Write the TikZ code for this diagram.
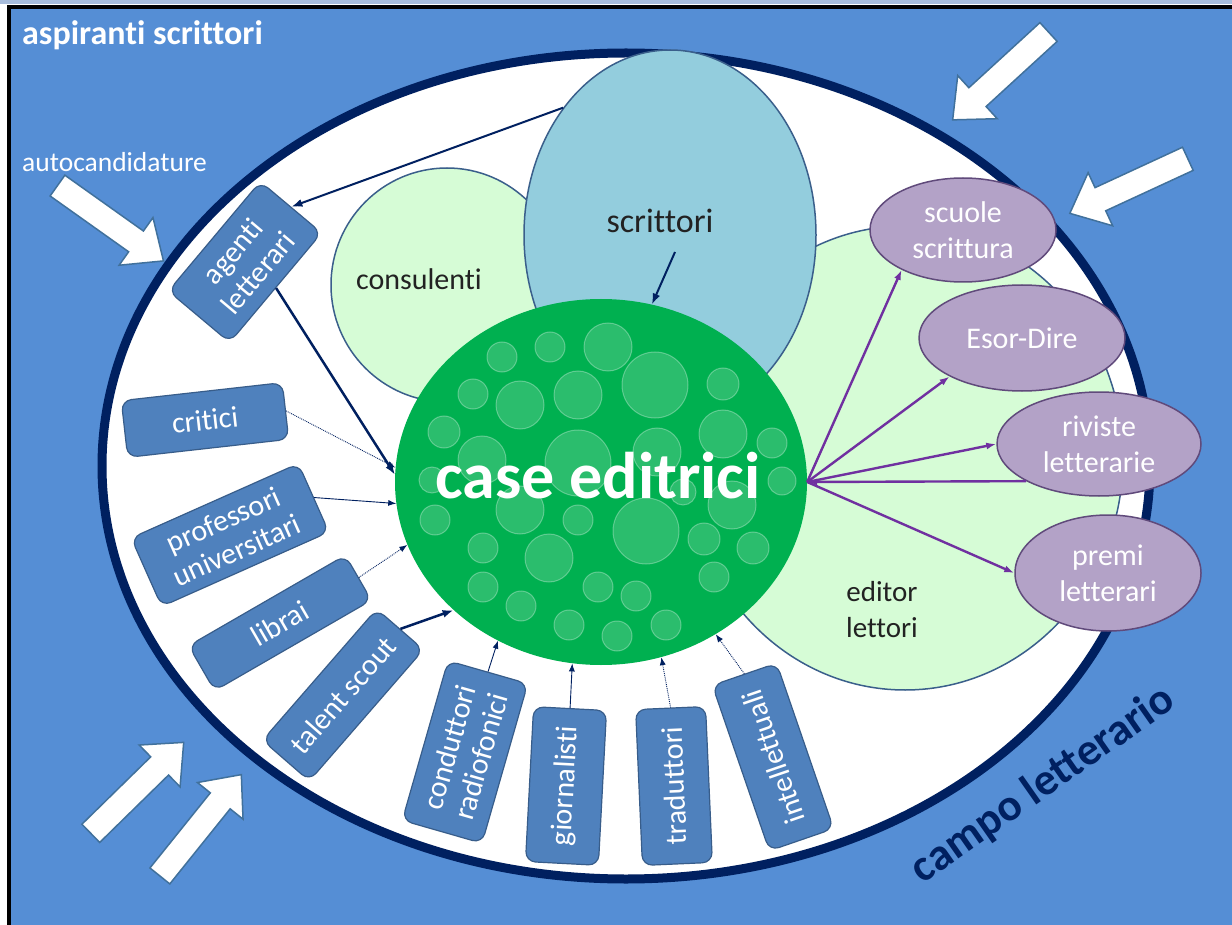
\documentclass[tikz,border=0pt]{standalone}
\usepackage{fontspec}
\setmainfont{Carlito}[Ligatures=NoCommon]
\usetikzlibrary{shapes.geometric,shapes.arrows,arrows.meta}

\definecolor{fieldblue}{HTML}{558ED5}
\definecolor{navy}{HTML}{002060}
\definecolor{mint}{HTML}{D6FCD6}
\definecolor{ringline}{HTML}{3A5F8B}
\definecolor{skyblue}{HTML}{93CDDD}
\definecolor{pubgreen}{HTML}{00B050}
\definecolor{lilac}{HTML}{B3A2C7}
\definecolor{lilacline}{HTML}{604A7B}
\definecolor{boxblue}{HTML}{4F81BD}
\definecolor{boxline}{HTML}{385D8A}
\definecolor{violetline}{HTML}{7030A0}
\definecolor{arrowline}{HTML}{41719C}
\definecolor{topstrip}{HTML}{A7BCDB}
\definecolor{inktext}{HTML}{222222}

\newcommand{\setsz}[2]{\fontsize{#1}{#2}\selectfont}

\tikzset{
  fieldring/.style={ellipse, draw=navy, line width=9pt, fill=white, inner sep=0pt},
  mintdisc/.style={ellipse, fill=mint, draw=ringline, line width=1.5pt, inner sep=0pt},
  lilacpill/.style={ellipse, fill=lilac, draw=lilacline, line width=1.5pt, inner sep=0pt,
    text=white, align=center, font=\setsz{30}{36}},
  rolebox/.style={rectangle, rounded corners=10pt, fill=boxblue, draw=boxline, line width=1.2pt,
    inner sep=0pt, text=white, align=center, font=\setsz{30}{33}},
  blockarrow/.style={single arrow, draw=arrowline, line width=1.5pt, fill=white,
    inner xsep=0pt, inner ysep=12pt, single arrow head extend=16.5pt,
    single arrow tip angle=82, minimum height=130pt},
  bubble/.style={fill=white, fill opacity=0.17, draw=white, draw opacity=0.3, line width=1pt},
  darktext/.style={text=inktext, inner sep=0pt},
  navyarrow/.style={draw=navy, line width=2pt, -{Latex[length=11pt,width=8pt]}},
  thinarrow/.style={draw=navy, line width=0.9pt, -{Latex[length=8pt,width=6pt]}},
  dotarrow/.style={draw=navy, line width=0.9pt, densely dotted, -{Latex[length=8pt,width=6pt]}},
  violetarrow/.style={draw=violetline, line width=2.4pt, -{Latex[length=10pt,width=7pt]}},
}

\begin{document}
\begin{tikzpicture}[x=1pt,y=-1pt]
\useasboundingbox (0,0) rectangle (1232,925);

% page and blue backdrop with its frame
\fill[white] (0,0) rectangle (1232,925);
\fill[topstrip] (0,0) rectangle (1232,4);
\fill[fieldblue] (9,7) rectangle (1232,925);
\draw[black, line width=3.5pt] (9,925) -- (9,7) -- (1232,7);

% the literary field
\node[fieldring, minimum width=1048pt, minimum height=826pt] (fld) at (626,466) {};

% inner groups
\node[mintdisc, minimum width=232pt, minimum height=234pt] (cons) at (447,285) {};
\node[mintdisc, minimum width=436pt, minimum height=464pt] (edit) at (905,458) {};
\node[ellipse, fill=skyblue, draw=ringline, line width=1.5pt, inner sep=0pt,
      minimum width=292pt, minimum height=370pt] (scr) at (670,235) {};

% publishers
\node[ellipse, fill=pubgreen, inner sep=0pt, minimum width=412pt, minimum height=366pt] (ce) at (601,482) {};
\foreach \bx/\by/\br in {502/357/15,550/347/15,608/347/24,655/385/33,578/395/24,520/405/24,
  473/394/15,723/384/16,444/432/16,482/460/24,578/463/33,657/452/24,723/434/24,772/443/15,
  432/480/13,782/481/14,683/492/13,520/510/24,578/520/15,646/531/33,732/505/24,435/520/15,
  483/548/15,549/558/24,704/539/16,753/548/16,714/577/15,483/587/15,521/606/15,598/587/15,
  636/596/15,569/625/15,617/636/15,666/625/15}
  \path[bubble] (\bx,\by) circle (\br pt);
\node[text=white, font=\bfseries\setsz{66}{70}, anchor=base, inner sep=0pt] (cet) at (598,498) {case editrici};

% labels of the inner groups
\node[darktext, font=\setsz{30}{36}, anchor=base] (consl) at (419,290) {consulenti};
\node[darktext, font=\setsz{34}{40}, anchor=base] (scrl) at (660,233) {scrittori};
\node[darktext, font=\setsz{29}{36}, align=center] (edl) at (882,610) {editor\\lettori};
\coordinate (scrtail) at (675,252);

% outward institutions
\node[lilacpill, minimum width=186pt, minimum height=104pt] (scu) at (963,230) {scuole\\scrittura};
\node[lilacpill, minimum width=206pt, minimum height=106pt] (eso) at (1022,338) {Esor-Dire};
\node[lilacpill, minimum width=204pt, minimum height=104pt] (riv) at (1099,444) {riviste\\letterarie};
\node[lilacpill, minimum width=186pt, minimum height=116pt] (pre) at (1108,573) {premi\\letterari};

% intermediaries around the publishers
\node[rolebox, rotate=50, minimum width=143pt, minimum height=80pt] (agt) at (245,262) {agenti\\letterari};
\node[rolebox, rotate=6.4, minimum width=162pt, minimum height=57pt] (crit) at (205,420) {critici};
\node[rolebox, rotate=24, minimum width=183pt, minimum height=75pt] (prof) at (230,535) {professori\\universitari};
\node[rolebox, rotate=30, minimum width=181pt, minimum height=52pt] (lib) at (280,623) {librai};
\node[rolebox, rotate=49, minimum width=174pt, minimum height=62pt] (tal) at (343,695) {talent scout};
\node[rolebox, rotate=74, minimum width=166pt, minimum height=83pt] (cond) at (465,752) {conduttori\\radiofonici};
\node[rolebox, rotate=87, minimum width=155pt, minimum height=73pt] (gio) at (566,786) {giornalisti};
\node[rolebox, rotate=92.5, minimum width=156pt, minimum height=70pt] (tra) at (674,786) {traduttori};
\node[rolebox, rotate=109, minimum width=175pt, minimum height=68pt] (intl) at (773,757) {intellettuali};

% connectors towards the publishers
\draw[navyarrow] (scr.130) -- (agt.east);
\draw[navyarrow, line width=2.5pt] (agt.south) -- (ce.178);
\draw[dotarrow] (crit.east) -- (ce.176.5);
\draw[thinarrow] (prof.east) -- (ce.186);
\draw[dotarrow] (lib.east) -- (ce.198);
\draw[navyarrow, line width=2.5pt] (tal.east) -- (ce.221);
\draw[thinarrow] (cond.east) -- (ce.237);
\draw[thinarrow] (gio.east) -- (ce.261);
\draw[dotarrow] (tra.east) -- (ce.289);
\draw[dotarrow] (intl.east) -- (ce.307);
\draw[navyarrow] (scrtail) -- (ce.74);

% connectors from the publishers
\draw[violetarrow] (ce.east) -- (scu.213);
\draw[violetarrow] (ce.east) -- (eso.208);
\draw[violetarrow] (ce.east) -- (riv.west);
\draw[violetarrow] (ce.east) -- (pre.west);
\draw[violetarrow] (riv.207) -- (ce.east);

% pressure from outside the field
\node[blockarrow, rotate=-35.4] (inA) at (104.5,219) {};
\node[blockarrow, rotate=-137.5] (inB) at (1006,71) {};
\node[blockarrow, rotate=-155.2] (inC) at (1135.5,183) {};
\node[blockarrow, rotate=44.4] (inD) at (132,793) {};
\node[blockarrow, rotate=51.2] (inE) at (196,831) {};

% captions
\node[text=white, font=\bfseries\setsz{34}{40}, anchor=base west, inner sep=0pt] (asp) at (22,45) {aspiranti scrittori};
\node[text=white, font=\setsz{27.5}{32}, anchor=base west, inner sep=0pt] (auto) at (22,172) {autocandidature};
\node[text=navy, font=\bfseries\setsz{45}{50}, rotate=35, inner sep=0pt] (camp) at (1043,785) {campo letterario};
\end{tikzpicture}
\end{document}
